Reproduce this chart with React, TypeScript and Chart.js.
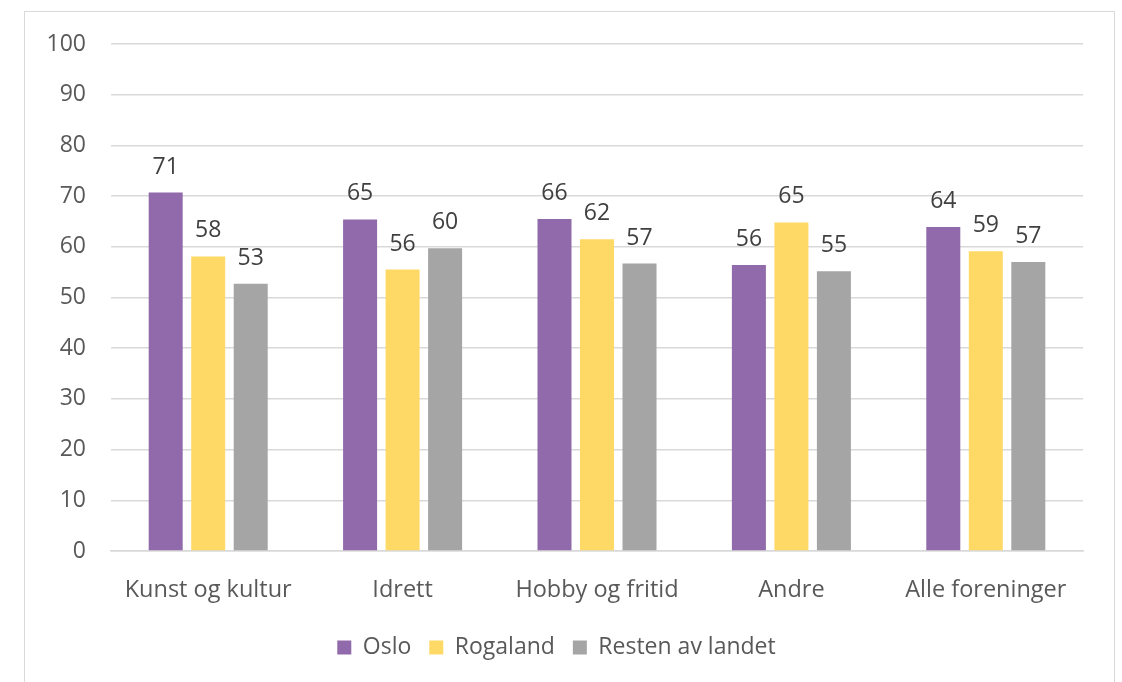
import React, { useEffect, useRef } from "react";
import { Chart, registerables } from "chart.js";

Chart.register(...registerables);

const categories = ["Kunst og kultur", "Idrett", "Hobby og fritid", "Andre", "Alle foreninger"];
const seriesNames = ["Oslo", "Rogaland", "Resten av landet"];
const oslo = [70.7, 65.4, 65.5, 56.4, 63.9];
const rogaland = [58.1, 55.5, 61.5, 64.8, 59.1];
const resten = [52.7, 59.7, 56.7, 55.2, 57.0];
const seriesColors = ["#906AAA", "#FFD966", "#A5A5A5"];
const yMin = 0;
const yMax = 100;
const yStep = 10;

const FONT = '"Open Sans", "Noto Sans", sans-serif';

const valueLabels = {
  id: "valueLabels",
  afterDatasetsDraw(chart: any) {
    const ctx = chart.ctx;
    ctx.save();
    ctx.font = `23px ${FONT}`;
    ctx.fillStyle = "#404040";
    ctx.textAlign = "center";
    ctx.textBaseline = "alphabetic";
    chart.data.datasets.forEach((ds: any, i: number) => {
      const meta = chart.getDatasetMeta(i);
      meta.data.forEach((el: any, j: number) => {
        const v = ds.data[j] as number;
        ctx.fillText(String(Math.round(v)), el.x, el.y - 19);
      });
    });
    ctx.restore();
  },
};

export default function App() {
  const canvasRef = useRef<HTMLCanvasElement | null>(null);

  useEffect(() => {
    if (!canvasRef.current) return;
    const values = [oslo, rogaland, resten];
    const chart = new Chart(canvasRef.current, {
      type: "bar",
      data: {
        labels: categories,
        datasets: seriesNames.map((name, i) => ({
          label: name,
          data: values[i],
          backgroundColor: seriesColors[i],
          borderWidth: 0,
          barPercentage: 0.8,
          categoryPercentage: 0.656,
        })),
      },
      options: {
        responsive: false,
        animation: false,
        devicePixelRatio: 1,
        layout: { padding: { left: 30, right: 39, top: 44, bottom: 13 } },
        plugins: {
          tooltip: { enabled: false },
          legend: {
            position: "bottom",
            labels: {
              boxWidth: 14,
              boxHeight: 14,
              padding: 18,
              color: "#595959",
              font: { family: FONT, size: 23 },
            },
          },
        },
        scales: {
          x: {
            afterFit: (scale: any) => {
              scale.height = 67;
            },
            grid: { display: false, drawTicks: false },
            border: { display: true, color: "#D9D9D9", width: 1.5 },
            ticks: { color: "#595959", font: { family: FONT, size: 23.5 }, padding: 25 },
          },
          y: {
            min: yMin,
            max: yMax,
            afterFit: (scale: any) => {
              scale.width = 81;
            },
            ticks: {
              stepSize: yStep,
              color: "#595959",
              font: { family: FONT, size: 23 },
              padding: 25,
            },
            grid: { color: "#D9D9D9", lineWidth: 1.5, drawTicks: false },
            border: { display: false },
          },
        },
      },
      plugins: [valueLabels],
    });
    return () => chart.destroy();
  }, []);

  return (
    <div
      style={{
        position: "fixed",
        left: 0,
        top: 0,
        width: 1122,
        height: 682,
        overflow: "hidden",
        background: "#ffffff",
      }}
    >
      <div
        style={{
          position: "absolute",
          left: 24,
          top: 11,
          width: 1091,
          height: 720,
          border: "1.5px solid #D9D9D9",
          boxSizing: "border-box",
        }}
      />
      <canvas
        ref={canvasRef}
        width={1122}
        height={682}
        style={{ position: "absolute", left: 0, top: 0, width: 1122, height: 682 }}
      />
    </div>
  );
}
